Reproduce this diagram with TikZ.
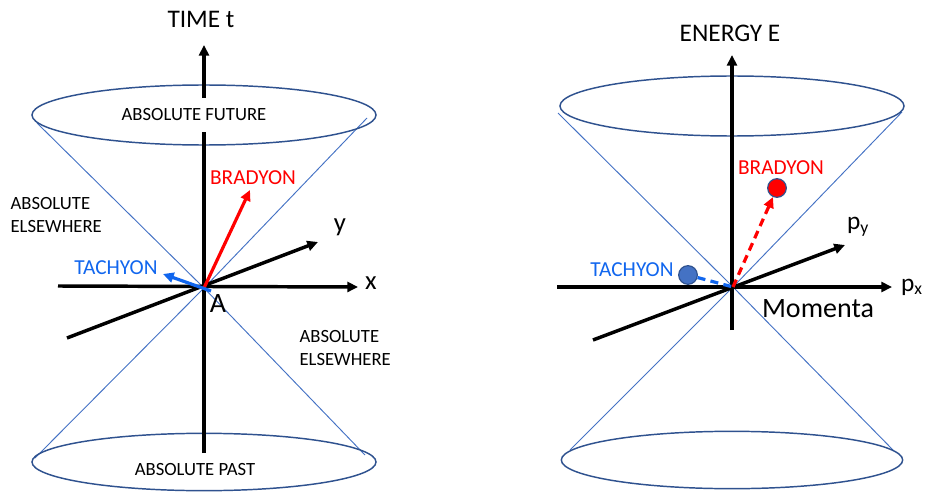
\documentclass[tikz,border=0pt]{standalone}
\usepackage{fontspec}
\setmainfont{Carlito}
\usetikzlibrary{arrows.meta, positioning}
\definecolor{conel}{RGB}{68,114,196}
\definecolor{rimc}{RGB}{47,82,143}
\definecolor{tachc}{RGB}{17,102,238}
\definecolor{tachdot}{RGB}{68,114,196}

\begin{document}
\begin{tikzpicture}[x=0.75pt, y=-0.75pt,
    >={Triangle[length=8pt, width=7.5pt]}]
  \tikzset{
    cone/.style={draw=conel, line width=0.7pt},
    rim/.style={draw=rimc, line width=1.1pt},
    ax/.style={black, line width=2.6pt},
    lbl/.style={font=\fontsize{14}{17}\selectfont, inner sep=1pt},
    big/.style={font=\fontsize{19}{22}\selectfont, inner sep=1pt},
    mid/.style={font=\fontsize{16}{19}\selectfont, inner sep=1pt},
    part/.style={draw=rimc, line width=0.9pt, circle,
      minimum size=14pt, inner sep=0pt},
    brad/.style={red, line width=2.4pt},
    tach/.style={tachc, line width=2.4pt},
  }
  \useasboundingbox (0,0) rectangle (925,492);
  % Space-time cone
  \coordinate (A1) at (204,288);
  \coordinate (ct1) at (204,45);   \coordinate (cb1) at (204,453);
  \coordinate (xl1) at (58,286);   \coordinate (xr1) at (358,287);
  \coordinate (yl1) at (67,338);   \coordinate (yr1) at (318,242);
  \draw[cone] (37,123) -- (A1) -- (365,455);
  \draw[cone] (367,118) -- (A1) -- (35,458);
  \draw[rim] (204,115) ellipse [x radius=129pt, y radius=22.5pt];
  \draw[rim] (204,462) ellipse [x radius=129pt, y radius=21.5pt];
  \draw[ax, ->] (cb1) -- (ct1);
  \draw[ax, ->] (xl1) -- (xr1);
  \draw[ax, ->] (yl1) -- (yr1);
  \node[lbl, fill=white, minimum height=26pt] (fut) at (194,115)
    {ABSOLUTE FUTURE};
  \node[lbl] (past) at (195,470) {ABSOLUTE PAST};
  \node[lbl, align=left, anchor=west] (elL) at (9,215)
    {ABSOLUTE\\ELSEWHERE};
  \node[lbl, align=left, anchor=west] (elR) at (298,348)
    {ABSOLUTE\\ELSEWHERE};
  \node[big] (tt) at (201,19) {TIME t};
  \node[mid, font=\fontsize{21}{24}\selectfont] (lA) at (218,304) {A};
  \node[mid, font=\fontsize{20}{24}\selectfont] (lx) at (371,283) {x};
  \node[mid, font=\fontsize{20}{24}\selectfont] (ly) at (340,227) {y};
  \coordinate (bt1) at (250,190);
  \coordinate (tt0) at (211,291);  \coordinate (tt1) at (163,274);
  \draw[brad, ->] (A1) -- (bt1);
  \draw[tach, ->] (tt0) -- (tt1);
  \node[mid, red] (br1) at (253,178) {BRADYON};
  \node[mid, tachc] (ta1) at (116,268) {TACHYON};
  % Energy-momentum cone
  \coordinate (A2) at (733,287);
  \coordinate (ct2) at (732,55);   \coordinate (cb2) at (732,330);
  \coordinate (xl2) at (557,287);  \coordinate (xr2) at (892,287);
  \coordinate (yl2) at (593,340);  \coordinate (yr2) at (845,245);
  \draw[cone] (558,113) -- (A2) -- (893,450);
  \draw[cone] (902,112) -- (A2) -- (570,450);
  \draw[rim] (732,106) ellipse [x radius=129pt, y radius=22.5pt];
  \draw[rim] (732,460) ellipse [x radius=128pt, y radius=21.5pt];
  \draw[ax, ->] (cb2) -- (ct2);
  \draw[ax, ->] (xl2) -- (xr2);
  \draw[ax, ->] (yl2) -- (yr2);
  \node[big] (en) at (730,33) {ENERGY E};
  \node[big, font=\fontsize{21}{24}\selectfont] (mom) at (818,309) {Momenta};
  \node[big] (lpx) at (912,287) {p\textsubscript{x}};
  \node[big] (lpy) at (858,227) {p\textsubscript{y}};
  \node[part, fill=red] (bd) at (777,188) {};
  \node[part, fill=tachdot] (td) at (688,275) {};
  \draw[brad, dashed, dash pattern=on 6pt off 4pt, ->] (A2) -- (bd);
  \draw[tach, dash pattern=on 6pt off 4pt] (td) -- (A2);
  \node[mid, red] (br2) at (781,168) {BRADYON};
  \node[mid, tachc] (ta2) at (632,270) {TACHYON};
\end{tikzpicture}
\end{document}
